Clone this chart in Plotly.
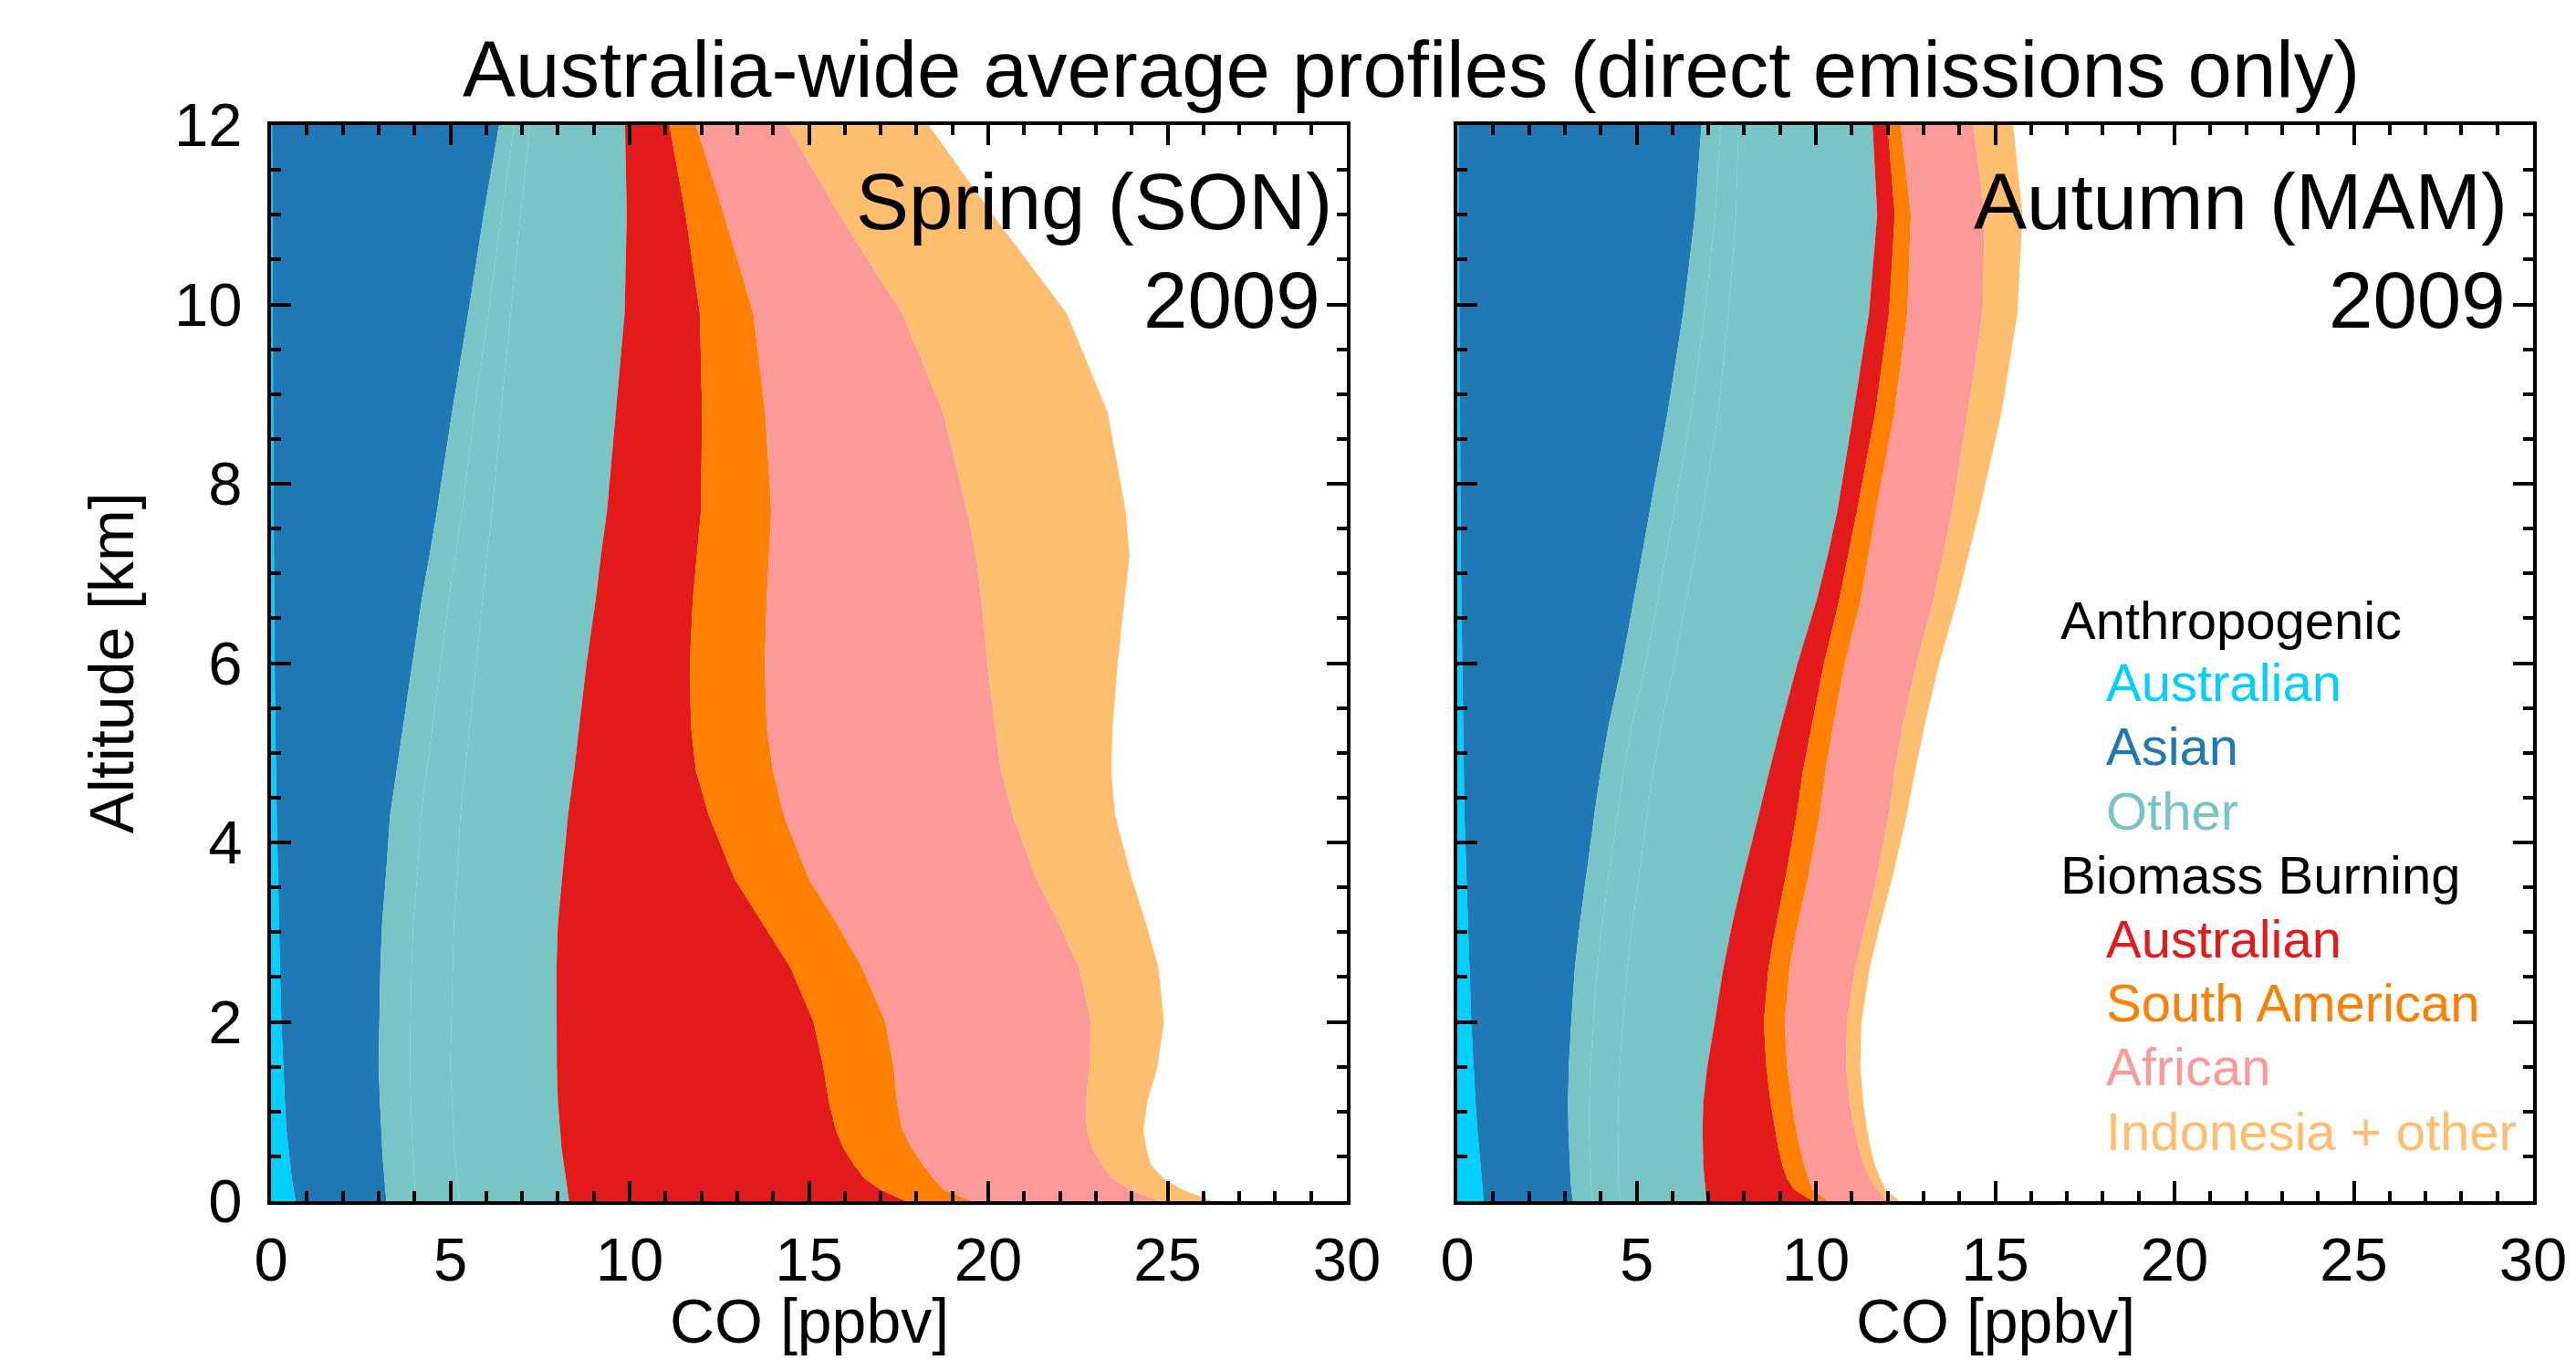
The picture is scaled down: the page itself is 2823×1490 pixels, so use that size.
import plotly.graph_objects as go

# ---------------- data ----------------
altitude_km = [0, 0.13, 0.25, 0.4, 0.6, 0.8, 1.1, 1.5, 2.0, 2.6, 3.1, 3.6, 4.3, 4.8,
               5.3, 6.0, 6.7, 7.2, 7.7, 8.8, 9.9, 11.0, 12.0]

# Spring (SON) 2009, contribution of each source [ppbv]
son_anth_australian = [.69, .63, .58, .54, .48, .43, .39, .34, .29, .25, .22, .19, .16, .14,
                       .12, .10, .09, .08, .07, .06, .05, .04, .03]
son_anth_asian = [2.53, 2.56, 2.58, 2.59, 2.62, 2.64, 2.65, 2.66, 2.73, 2.80, 2.88, 3.01, 3.16,
                  3.36, 3.56, 3.83, 4.11, 4.34, 4.56, 4.99, 5.45, 5.89, 6.33]
son_anth_other_1 = [.81, .82, .83, .84, .85, .86, .87, .87, .87, .87, .87, .87, .86, .84, .82,
                    .80, .76, .72, .70, .62, .56, .50, .42]
son_anth_other_2 = [1.24, 1.22, 1.20, 1.18, 1.16, 1.15, 1.14, 1.13, 1.14, 1.14, 1.13, 1.12, 1.10,
                    1.07, 1.04, 1.00, .94, .88, .84, .74, .62, .53, .44]
son_anth_other_3 = [3.04, 3.04, 3.04, 3.02, 2.99, 2.98, 2.95, 2.97, 2.93, 2.90, 2.90, 2.92, 3.00,
                    3.04, 3.06, 3.07, 3.15, 3.18, 3.20, 3.21, 3.18, 2.96, 2.65]
son_bb_australian = [9.39, 8.73, 8.33, 8.10, 7.85, 7.69, 7.56, 7.43, 7.17, 6.53, 5.71, 4.81, 3.93,
                     3.40, 3.11, 2.88, 2.71, 2.68, 2.62, 2.40, 2.10, 1.64, 1.24]
son_bb_south_american = [1.85, 1.76, 1.92, 1.92, 1.90, 1.85, 1.90, 1.96, 2.00, 2.00, 2.06, 2.07,
                         2.09, 2.15, 2.11, 2.09, 2.06, 2.00, 1.96, 1.76, 1.49, 1.07, .74]
son_bb_african = [5.20, 5.21, 4.99, 4.99, 5.05, 5.15, 5.26, 5.46, 5.73, 6.05, 6.20, 6.34, 6.39,
                  6.36, 6.37, 6.21, 5.99, 5.78, 5.46, 4.96, 4.15, 3.22, 2.54]
son_bb_indonesia = [1.50, 1.43, 1.43, 1.36, 1.50, 1.58, 1.71, 1.90, 2.04, 2.21, 2.43, 2.67, 2.85,
                    3.07, 3.28, 3.63, 3.99, 4.28, 4.42, 4.59, 4.59, 4.27, 3.95]

# Autumn (MAM) 2009, contribution of each source [ppbv]
mam_anth_australian = [.74, .71, .68, .65, .60, .56, .51, .45, .39, .34, .30, .25, .20, .18,
                       .16, .13, .11, .10, .09, .07, .06, .05, .04]
mam_anth_asian = [2.49, 2.47, 2.48, 2.49, 2.51, 2.54, 2.58, 2.66, 2.79, 2.94, 3.12, 3.33, 3.62,
                  3.82, 4.06, 4.47, 4.82, 5.05, 5.28, 5.80, 6.24, 6.58, 6.77]
mam_anth_other_1 = [.56, .56, .57, .57, .58, .58, .59, .60, .61, .62, .63, .63, .64, .64, .65,
                    .65, .66, .67, .68, .66, .60, .56, .53]
mam_anth_other_2 = [.76, .76, .77, .78, .79, .80, .81, .82, .83, .84, .84, .84, .83, .82, .81,
                    .80, .80, .80, .80, .75, .66, .58, .50]
mam_anth_other_3 = [2.40, 2.42, 2.39, 2.37, 2.37, 2.36, 2.37, 2.44, 2.56, 2.68, 2.78, 2.91, 3.11,
                    3.24, 3.34, 3.44, 3.63, 3.71, 3.75, 3.77, 3.92, 3.94, 3.74]
mam_bb_australian = [2.97, 2.48, 2.31, 2.21, 2.10, 2.02, 1.88, 1.65, 1.37, 1.26, 1.23, 1.19, 1.06,
                     .94, .86, .74, .63, .57, .55, .61, .56, .49, .42]
mam_bb_south_american = [.42, .50, .60, .61, .60, .59, .59, .58, .58, .59, .60, .63, .64, .63,
                         .60, .58, .60, .57, .53, .53, .51, .45, .36]
mam_bb_african = [1.66, 1.80, 1.70, 1.67, 1.65, 1.63, 1.62, 1.64, 1.74, 1.83, 1.90, 1.92, 1.93,
                  1.93, 1.94, 2.00, 2.03, 2.07, 2.12, 2.05, 2.10, 2.06, 2.03]
mam_bb_indonesia = [.34, .25, .30, .30, .32, .35, .37, .40, .40, .40, .40, .43, .50, .57, .61,
                    .63, .66, .71, .76, .94, .97, 1.05, 1.11]

x_ticks = [0, 5, 10, 15, 20, 25, 30]
y_ticks = [0, 2, 4, 6, 8, 10, 12]

legend_labels = ["Anthropogenic", "Australian", "Asian", "Other", "Biomass Burning",
                 "Australian", "South American", "African", "Indonesia + other"]

# ---------------- styling ----------------
C_AUS_ANTH = "#00CFFF"
C_ASIAN = "#2078B4"
C_OTHER = "#78C5C5"
C_AUS_BB = "#E31A1C"
C_SAM = "#FF7F00"
C_AFR = "#FB9A99"
C_INDO = "#FDBF6F"
legend_colors = ["black", C_AUS_ANTH, C_ASIAN, C_OTHER, "black",
                 C_AUS_BB, C_SAM, C_AFR, C_INDO]
legend_indent = [False, True, True, True, False, True, True, True, True]

FONT = "Liberation Sans, Arial, Helvetica, sans-serif"
W, H = 2823, 1490


def px_x(p):
    return p / W


def px_y(p):
    return 1 - p / H


fig = go.Figure()

panels = [
    ("x", "y", [son_anth_australian, son_anth_asian, son_anth_other_1, son_anth_other_2,
                son_anth_other_3, son_bb_australian, son_bb_south_american,
                son_bb_african, son_bb_indonesia]),
    ("x2", "y2", [mam_anth_australian, mam_anth_asian, mam_anth_other_1, mam_anth_other_2,
                  mam_anth_other_3, mam_bb_australian, mam_bb_south_american,
                  mam_bb_african, mam_bb_indonesia]),
]
colors = [C_AUS_ANTH, C_ASIAN, C_OTHER, C_OTHER, C_OTHER, C_AUS_BB, C_SAM, C_AFR, C_INDO]

for xa, ya, series in panels:
    cum = [0.0] * len(altitude_km)
    for i, (vals, col) in enumerate(zip(series, colors)):
        cum = [c + v for c, v in zip(cum, vals)]
        fig.add_trace(go.Scatter(
            x=list(cum), y=altitude_km, xaxis=xa, yaxis=ya, mode="lines",
            line=dict(width=0, color=col), fill="tozerox" if i == 0 else "tonextx",
            fillcolor=col, showlegend=False, hoverinfo="skip"))

# panel geometry (pixels)
L1, R1 = 297, 1476
L2, R2 = 1597, 2776
TOP, BOT = 137, 1316

axis_common = dict(
    showline=True, linewidth=4, linecolor="black", mirror="ticks",
    ticks="inside", ticklen=22, tickwidth=4, tickcolor="black",
    showgrid=False, zeroline=False, automargin=False,
    tickfont=dict(family=FONT, size=67, color="black"),
)

fig.update_layout(
    template="none",
    width=W, height=H, margin=dict(l=0, r=0, t=0, b=0, pad=0, autoexpand=False),
    plot_bgcolor="white", paper_bgcolor="white",
    xaxis=dict(domain=[px_x(L1), px_x(R1)], range=[0, 30], tickvals=x_ticks,
               minor=dict(dtick=1, ticks="inside", ticklen=11, tickwidth=3.5, tickcolor="black"),
               ticklabelstandoff=3, anchor="y", **axis_common),
    yaxis=dict(domain=[px_y(BOT), px_y(TOP)], range=[0, 12], tickvals=y_ticks,
               minor=dict(dtick=0.5, ticks="inside", ticklen=11, tickwidth=3.5, tickcolor="black"),
               ticklabelstandoff=14, anchor="x", **axis_common),
    xaxis2=dict(domain=[px_x(L2), px_x(R2)], range=[0, 30], tickvals=x_ticks,
                minor=dict(dtick=1, ticks="inside", ticklen=11, tickwidth=3.5, tickcolor="black"),
                ticklabelstandoff=3, anchor="y2", **axis_common),
    yaxis2=dict(domain=[px_y(BOT), px_y(TOP)], range=[0, 12], tickvals=y_ticks,
                minor=dict(dtick=0.5, ticks="inside", ticklen=11, tickwidth=3.5, tickcolor="black"),
                showticklabels=False, anchor="x2", **axis_common),
)

annotations = []


def text(s, x, y, size, color="black", xanchor="center", yanchor="middle", angle=0):
    annotations.append(dict(text=s, x=px_x(x), y=px_y(y), xref="paper", yref="paper",
                            showarrow=False, xanchor=xanchor, yanchor=yanchor,
                            textangle=angle,
                            font=dict(family=FONT, size=size, color=color)))


text("Australia-wide average profiles (direct emissions only)", 1547, 76, 87)
text("CO [ppbv]", (L1 + R1) / 2, 1447, 68)
text("CO [ppbv]", (L2 + R2) / 2, 1447, 68)
text("Altitude [km]", 122, (TOP + BOT) / 2, 68, angle=-90)
text("Spring (SON)", 1462, 220, 87, xanchor="right")
text("2009", 1449, 328, 87, xanchor="right")
text("Autumn (MAM)", 2750, 220, 87, xanchor="right")
text("2009", 2748, 328, 87, xanchor="right")

legend_y = [679, 747, 817, 888, 958, 1028, 1098, 1168, 1239]
for lab, col, ind, yy in zip(legend_labels, legend_colors, legend_indent, legend_y):
    text(lab, 2306 if ind else 2256, yy, 58, color=col, xanchor="left")

fig.update_layout(annotations=annotations)

fig.write_html("out.html", config={"displayModeBar": False},
               post_script="document.body.style.margin='0';")
